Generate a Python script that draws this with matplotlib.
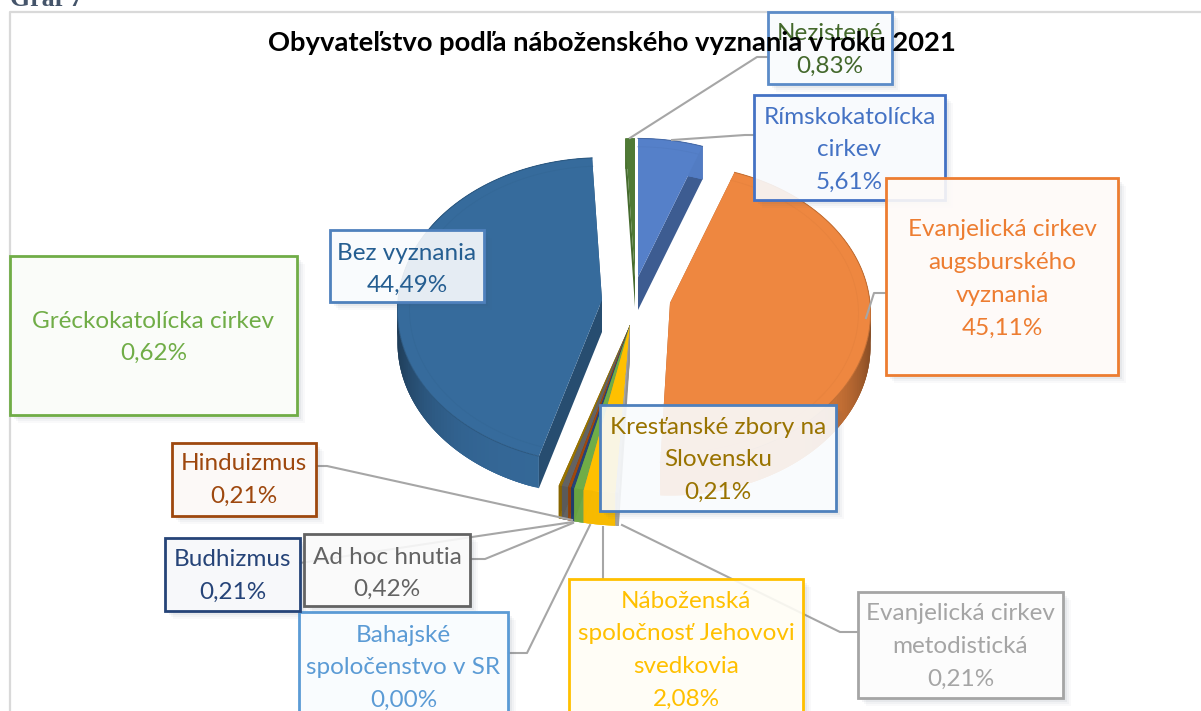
import numpy as np
import matplotlib
matplotlib.use("Agg")
import matplotlib.pyplot as plt
from matplotlib.patches import Polygon, Rectangle

# ---- data (clockwise order from the top of the pie) ----
categories = ["Rímskokatolícka\ncirkev", "Evanjelická cirkev\naugsburského\nvyznania",
              "Evanjelická cirkev\nmetodistická", "Náboženská\nspoločnosť Jehovovi\nsvedkovia",
              "Bahajské\nspoločenstvo v SR", "Gréckokatolícka cirkev", "Budhizmus", "Hinduizmus",
              "Ad hoc hnutia", "Kresťanské zbory na\nSlovensku", "Bez vyznania", "Nezistené"]
values = [5.61, 45.11, 0.21, 2.08, 0.00, 0.62, 0.21, 0.21, 0.42, 0.21, 44.49, 0.83]
title = "Obyvateľstvo podľa náboženského vyznania v roku 2021"
caption = "Graf 7"

# ---- style and layout ----
FONT = "Lato"
slice_cols = ["#5580C9", "#EE8740", "#A5A5A5", "#FFC000", "#5B9BD5", "#70AD47",
              "#264478", "#9E480E", "#636363", "#997300", "#366B9C", "#4F7A35"]
text_cols = ["#4472C4", "#ED7D31", "#A5A5A5", "#FFC000", "#5B9BD5", "#70AD47",
             "#264478", "#9E480E", "#636363", "#997300", "#255E91", "#43682B"]
border_cols = ["#4472C4", "#ED7D31", "#A5A5A5", "#FFC000", "#5B9BD5", "#70AD47",
               "#264478", "#9E480E", "#636363", "#4F81BD", "#4F81BD", "#5B8BC8"]
# apex x, apex y, rx, ry, depth for each slice
geom = [(638, 277, 200, 149, 33), (670, 303, 200, 149, 33)] + \
       [(630, 325, 230, 157, 33)] * 8 + \
       [(602, 300, 204, 153, 32), (635, 277, 200, 149, 30)]
# label boxes: x0, y0, x1, y1, y of first text line
boxes = [(754, 95, 945, 200, 117), (886, 178, 1118, 375, 230), (858, 592, 1063, 698, 614),
         (569, 579, 803, 730, 601), (299, 612, 508, 730, 635), (10, 256, 297, 415, 321),
         (165, 538, 300, 611, 560), (172, 443, 316, 516, 464), (304, 534, 470, 606, 557),
         (600, 405, 836, 511, 427), (330, 230, 484, 302, 253), (768, 12, 892, 84, 34)]
leaders = [[(672, 140), (745, 135), (754, 135)], [(866, 318), (874, 293), (886, 293)],
           [(858, 632), (840, 632), (622, 525)], [(603, 579), (603, 527)],
           [(508, 653), (527, 653), (590, 525)], [(300, 563), (472, 537), (573, 522)],
           [(316, 466), (327, 466), (572, 520)], [(470, 559), (485, 559), (573, 523)],
           [(630, 138), (757, 57), (768, 57)]]
LINE = 32.8
K = 0.07


def shade(col, f):
    return tuple(c * f for c in matplotlib.colors.to_rgb(col))


def tint(col, amount=0.035):
    return tuple(1 - (1 - c) * amount for c in matplotlib.colors.to_rgb(col))


def project(t, g, inset=0.0):
    ax0, ay0, rx, ry, _ = g
    c, s = np.cos(t), np.sin(t)
    p = 1 - K * c
    return ax0 + (rx - inset) * s * p, ay0 - (ry - inset * 0.75) * c * p


fig = plt.figure(figsize=(12.01, 7.11), dpi=100, facecolor="white")
ax = fig.add_axes([0, 0, 1, 1])
ax.set_xlim(0, 1201)
ax.set_ylim(711, 0)
ax.axis("off")

# chart frame
ax.plot([10, 10, 1201], [711, 12, 12], color="#D9D9D9", lw=1.6, zorder=1)
ax.text(10, 6, caption, family="Liberation Serif", weight="bold", fontsize=18.6,
        color="#44546A", va="baseline", ha="left", zorder=1, clip_on=True)

# pie
fractions = np.array(values) / np.sum(values)
ends = np.cumsum(fractions) * 2 * np.pi
starts = ends - fractions * 2 * np.pi
order = [11, 0, 1, 10, 9, 8, 7, 6, 5, 4, 3, 2]
for i in order:
    g = geom[i]
    col = slice_cols[i]
    d = g[4]
    ts = np.linspace(starts[i], ends[i], 120)
    x, y = project(ts, g)
    apex = (g[0], g[1])
    small = fractions[i] < 0.03
    fr = 0.88 if small else 0.72
    for tedge in (ts[0], ts[-1]):
        ex, ey = project(tedge, g)
        ax.add_patch(Polygon([apex, (ex, ey), (ex, ey + d), (apex[0], apex[1] + d)],
                             closed=True, fc=shade(col, fr), ec="none", zorder=2))
    # outer wall, lit at the front and dark towards the sides (overlapping quads avoid seams)
    for k in range(len(ts) - 1):
        f = 0.97 - 0.42 * abs(np.sin((ts[k] + ts[k + 1]) / 2)) ** 5
        m = min(k + 3, len(ts) - 1)
        quad = np.column_stack([np.r_[x[k:m + 1], x[k:m + 1][::-1]],
                                np.r_[y[k:m + 1], (y[k:m + 1] + d)[::-1]]])
        ax.add_patch(Polygon(quad, closed=True, fc=shade(col, f), ec="none", zorder=2))
    arc = np.column_stack([x, y])
    ax.add_patch(Polygon(np.vstack([[apex], arc]), closed=True, fc=col, ec="none", zorder=2))
    if not small:
        ax.plot(x, y, color=shade(col, 0.82), lw=0.7, zorder=2)
        ix, iy = project(ts, g, inset=12)
        ax.plot(ix, iy, color=shade(col, 0.97), lw=0.6, zorder=2)

# leader lines
for pts in leaders:
    xs, ys = zip(*pts)
    ax.plot(xs, ys, color="#A6A6A6", lw=1.5, zorder=3)

# labels
for i, (x0, y0, x1, y1, ty) in enumerate(boxes):
    w, h = x1 - x0, y1 - y0
    for off, a in ((8, 0.03), (6, 0.04), (4, 0.06), (2, 0.07)):
        ax.add_patch(Rectangle((x1, y0 + off), off, h, fc="#44546A", ec="none", alpha=a, zorder=4))
        ax.add_patch(Rectangle((x0 + off, y1), w - off, off, fc="#44546A", ec="none", alpha=a, zorder=4))
    ax.add_patch(Rectangle((x0, y0), w, h, fc=tint(border_cols[i]) + (0.9,),
                           ec=border_cols[i], lw=2.0, zorder=5))
    pct = f"{values[i]:.2f}%".replace(".", ",")
    lines = categories[i].split("\n") + [pct]
    cx = (x0 + x1) / 2
    for j, s in enumerate(lines):
        ax.text(cx, ty + j * LINE, s, family=FONT, fontsize=17.5, color=text_cols[i],
                ha="center", va="center", zorder=6)

ax.text(611.5, 43, title, family=FONT, weight="bold", fontsize=19.7, color="black",
        ha="center", va="center", zorder=7)

fig.savefig("out.png", dpi=100)
